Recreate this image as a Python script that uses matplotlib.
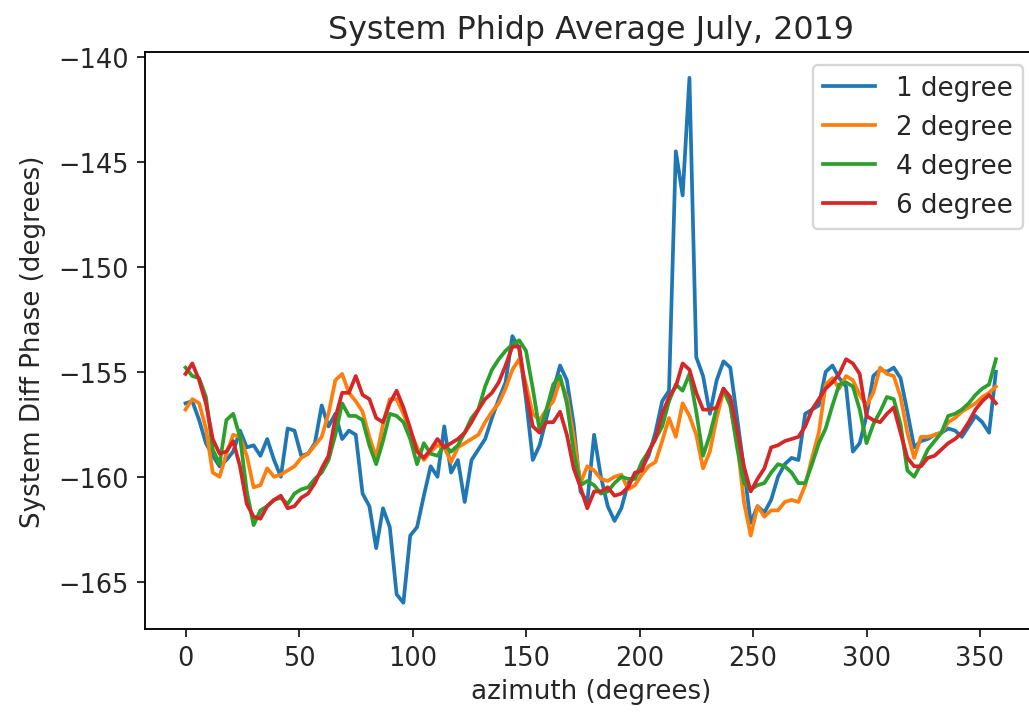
import numpy as np
import matplotlib
matplotlib.use("Agg")
import matplotlib.pyplot as plt

# azimuth bins, 3 degree steps
azimuth = np.arange(0, 360, 3)

# system differential phase averages per elevation (degrees)
phidp_1deg = [
    -156.5, -156.4, -157.3, -158.4, -159.0, -159.5, -159.2, -158.8, -157.8, -158.6,
    -158.5, -159.0, -158.2, -159.2, -160.0, -157.7, -157.8, -159.0, -158.9, -158.4,
    -156.6, -157.6, -157.0, -158.2, -157.8, -158.0, -160.8, -161.4, -163.4, -161.5,
    -162.4, -165.6, -166.0, -162.8, -162.4, -160.9, -159.5, -160.0, -157.6, -159.8,
    -159.2, -161.2, -159.2, -158.7, -158.2, -157.2, -156.3, -155.5, -153.3, -153.9,
    -156.3, -159.2, -158.5, -157.2, -155.9, -154.7, -155.4, -157.5, -160.7, -161.2,
    -158.0, -160.0, -161.4, -162.1, -161.5, -160.3, -160.0, -159.6, -159.0, -157.9,
    -156.4, -155.9, -144.5, -146.6, -141.0, -154.3, -155.2, -157.0, -155.4, -154.5,
    -154.8, -157.2, -159.6, -162.2, -161.4, -161.7, -161.1, -160.0, -159.4, -159.1,
    -159.2, -157.0, -156.8, -156.6, -155.0, -154.7, -155.3, -155.7, -158.8, -158.4,
    -157.1, -155.2, -154.9, -155.0, -154.8, -155.3, -156.9, -158.6, -158.3, -158.2,
    -158.0, -157.9, -157.7, -157.8, -158.1, -157.6, -157.1, -157.4, -157.9, -155.0,
]
phidp_2deg = [
    -156.8, -156.3, -156.5, -157.7, -159.8, -160.0, -158.9, -158.0, -158.1, -159.0,
    -160.5, -160.4, -159.6, -160.0, -159.9, -159.7, -159.5, -159.1, -158.9, -158.5,
    -158.1, -157.0, -155.4, -155.1, -156.0, -156.4, -156.9, -158.1, -159.1, -157.5,
    -156.3, -156.3, -157.0, -157.8, -158.6, -159.2, -158.8, -158.5, -158.6, -159.3,
    -158.6, -158.4, -158.2, -158.0, -157.4, -156.9, -156.5, -155.8, -154.9, -154.4,
    -155.6, -157.0, -157.3, -156.8, -156.4, -155.4, -156.2, -158.1, -160.3, -159.5,
    -159.7, -160.1, -160.2, -160.0, -159.9, -160.6, -160.4, -159.9, -159.5, -159.3,
    -158.3, -157.2, -158.1, -156.5, -157.1, -158.0, -159.6, -158.8, -157.2, -155.9,
    -156.6, -158.3, -161.2, -162.8, -161.4, -161.9, -161.6, -161.6, -161.2, -161.1,
    -161.2, -160.4, -159.1, -157.9, -155.6, -155.3, -155.8, -155.2, -155.4, -156.1,
    -156.6, -156.0, -154.8, -155.1, -155.2, -156.2, -157.9, -159.1, -158.1, -158.1,
    -158.0, -157.9, -157.4, -157.2, -156.9, -156.7, -156.5, -156.2, -156.0, -155.7,
]
phidp_4deg = [
    -154.8, -155.2, -155.3, -156.2, -158.7, -159.4, -157.3, -157.0, -158.1, -160.7,
    -162.3, -161.6, -161.4, -161.1, -161.0, -161.3, -160.8, -160.6, -160.5, -160.1,
    -159.8, -159.2, -158.0, -156.5, -157.1, -157.1, -157.3, -158.5, -159.4, -158.3,
    -157.0, -157.1, -157.4, -158.2, -159.4, -158.4, -158.9, -159.0, -158.5, -158.8,
    -158.5, -157.9, -157.2, -156.8, -155.7, -154.9, -154.4, -154.0, -153.7, -153.5,
    -154.0, -155.8, -157.8, -156.8, -155.6, -155.2, -156.5, -158.8, -160.4, -160.2,
    -160.4, -160.8, -160.7, -160.3, -160.0, -160.1, -160.1, -159.3, -158.8, -158.2,
    -157.6, -156.4, -155.6, -155.9, -155.1, -156.9, -159.0, -158.0, -156.7, -155.8,
    -156.6, -158.6, -160.3, -160.6, -160.4, -160.3, -159.8, -159.4, -159.5, -159.8,
    -160.3, -160.3, -159.4, -158.4, -157.7, -156.6, -155.6, -155.5, -155.7, -156.8,
    -158.4, -157.5, -156.9, -156.2, -156.3, -157.5, -159.7, -160.0, -159.4, -158.7,
    -158.3, -157.9, -157.1, -157.0, -156.8, -156.5, -156.1, -155.8, -155.6, -154.4,
]
phidp_6deg = [
    -155.1, -154.6, -155.4, -156.5, -158.2, -158.9, -158.8, -158.3, -159.5, -161.3,
    -161.9, -162.0, -161.4, -161.1, -160.9, -161.5, -161.4, -161.0, -160.8, -160.3,
    -159.6, -159.0, -157.2, -156.0, -156.0, -155.2, -156.1, -156.3, -157.2, -157.4,
    -156.5, -155.9, -156.7, -157.7, -158.8, -159.1, -158.7, -158.2, -158.6, -158.4,
    -158.2, -157.9, -157.4, -156.8, -156.3, -156.0, -155.5, -154.7, -153.8, -153.8,
    -156.0, -157.6, -157.9, -157.4, -157.4, -156.9, -158.0, -159.6, -160.5, -161.5,
    -160.7, -160.7, -160.5, -160.9, -160.8, -160.5, -159.8, -159.7, -158.8, -158.2,
    -157.0, -156.2, -155.7, -154.6, -154.9, -156.0, -156.8, -156.8, -156.7, -155.8,
    -156.2, -157.8, -159.5, -160.7, -160.1, -159.6, -158.6, -158.5, -158.3, -158.2,
    -158.1, -157.6, -156.8, -156.3, -155.8, -155.5, -155.1, -154.4, -154.6, -155.1,
    -157.1, -157.3, -157.4, -157.0, -156.7, -157.9, -159.1, -159.5, -159.5, -159.1,
    -159.0, -158.7, -158.4, -158.2, -157.9, -157.4, -156.8, -156.4, -156.1, -156.5,
]
labels = ["1 degree", "2 degree", "4 degree", "6 degree"]

plt.rcParams["font.size"] = 11.0
plt.rcParams["text.color"] = "#262626"
plt.rcParams["axes.labelcolor"] = "#262626"
plt.rcParams["xtick.color"] = "#262626"
plt.rcParams["ytick.color"] = "#262626"

fig = plt.figure(figsize=(1029 / 168, 713 / 168), dpi=168)
ax = fig.add_axes([0.1409, 0.1164, 0.8663, 0.8098])

for series, lab in zip([phidp_1deg, phidp_2deg, phidp_4deg, phidp_6deg], labels):
    ax.plot(azimuth, series, label=lab, lw=1.6)

ax.set_title("System Phidp Average July, 2019", fontsize=13.6, pad=6)
ax.set_xlabel("azimuth (degrees)", fontsize=11.2, labelpad=3)
ax.set_ylabel("System Diff Phase (degrees)", fontsize=11.2, labelpad=5)
ax.legend(loc="upper right", fontsize=11.2)

fig.savefig("out.png", dpi=168)
